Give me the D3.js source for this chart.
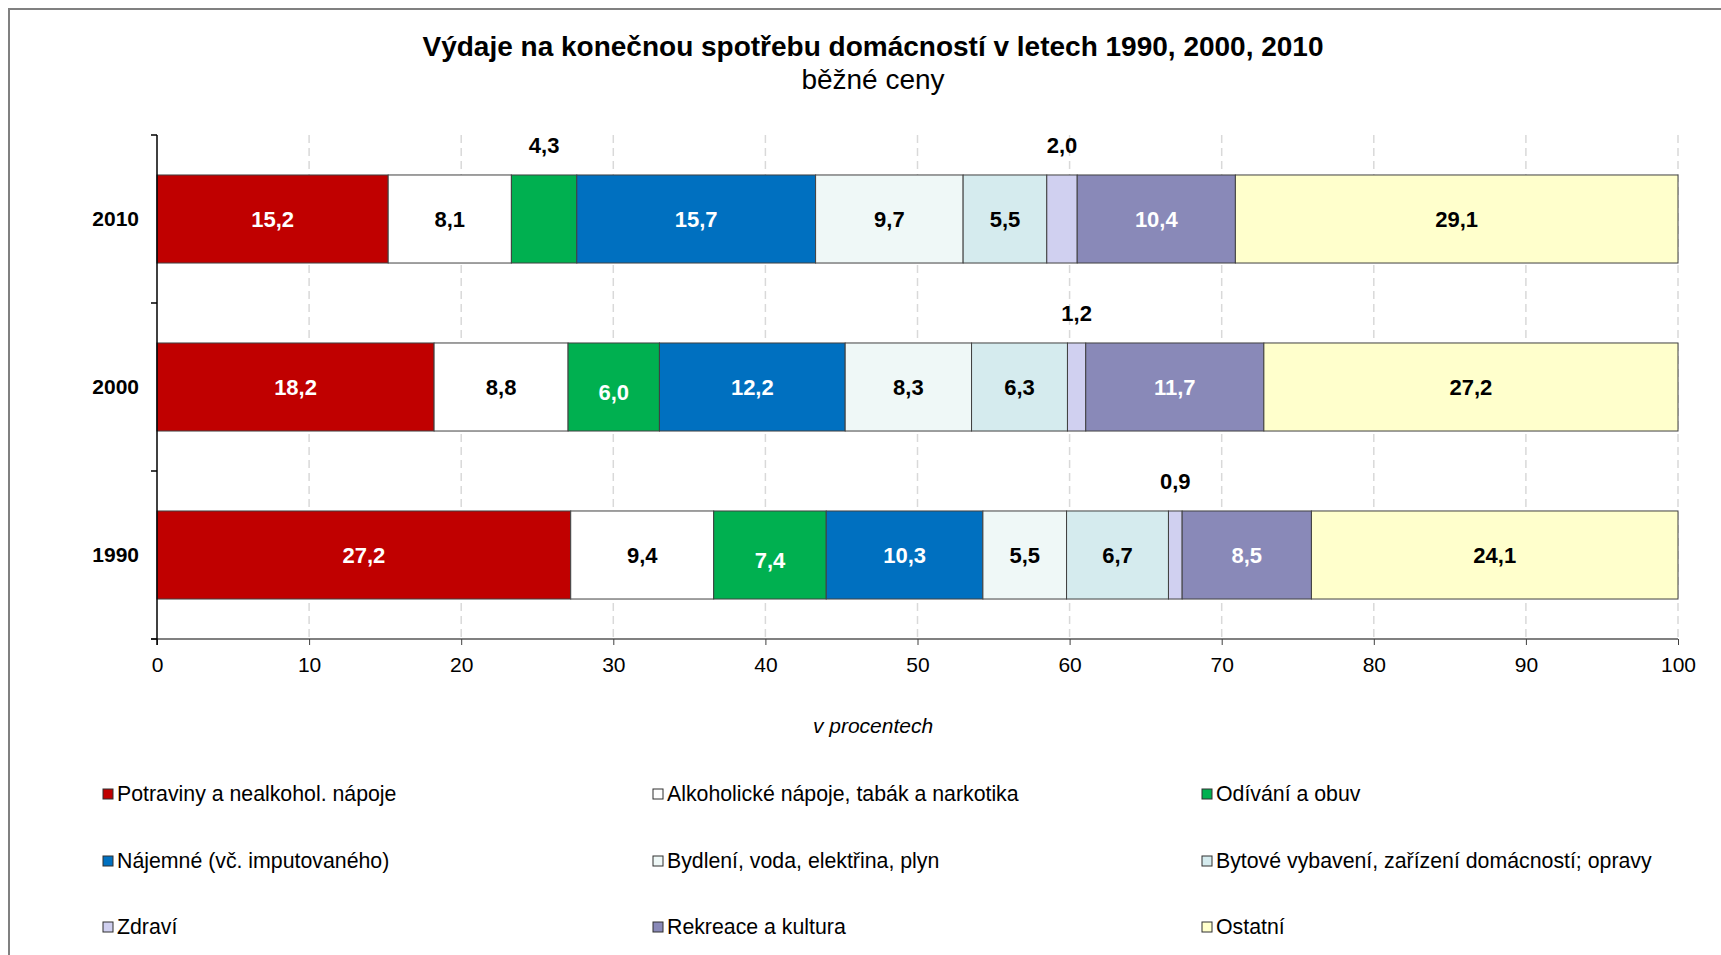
<!DOCTYPE html>
<html>
<head>
<meta charset="utf-8">
<script src="https://cdn.jsdelivr.net/npm/d3@7"></script>
<style>
  body { margin: 0; background: #fff; }
  svg { display: block; font-family: "Liberation Sans", Arial, sans-serif; }
</style>
</head>
<body>
<script>
var width = 1721, height = 955;
var margin = {top: 135, right: 43, bottom: 316, left: 157};

// data
var years = ["2010", "2000", "1990"];
var categories = [
  "Potraviny a nealkohol. nápoje",
  "Alkoholické nápoje, tabák a narkotika",
  "Odívání a obuv",
  "Nájemné (vč. imputovaného)",
  "Bydlení, voda, elektřina, plyn",
  "Bytové vybavení, zařízení domácností; opravy",
  "Zdraví",
  "Rekreace a kultura",
  "Ostatní"
];
var values2010 = [15.2, 8.1, 4.3, 15.7, 9.7, 5.5, 2.0, 10.4, 29.1];
var values2000 = [18.2, 8.8, 6.0, 12.2, 8.3, 6.3, 1.2, 11.7, 27.2];
var values1990 = [27.2, 9.4, 7.4, 10.3, 5.5, 6.7, 0.9, 8.5, 24.1];
var xTicks = [0, 10, 20, 30, 40, 50, 60, 70, 80, 90, 100];

var colors = ["#C00000", "#FFFFFF", "#00B050", "#0070C0", "#EFF8F7",
              "#D5EBEE", "#D0D0F0", "#8989B8", "#FFFFCC"];
var whiteText = [true, false, true, true, false, false, false, true, false];

var rows = [values2010, values2000, values1990].map(function(v, i) {
  var r = {year: years[i]};
  categories.forEach(function(c, j) { r[c] = v[j]; });
  return r;
});

var series = d3.stack().keys(categories).offset(d3.stackOffsetExpand)(rows);

var w = width - margin.left - margin.right;
var h = height - margin.top - margin.bottom;

var x = d3.scaleLinear().domain([0, 1]).range([0, w]);
var y = d3.scaleBand().domain(years).range([0, h]).paddingInner(0.476).paddingOuter(0.238);
var fmt = function(v) { return d3.format(".1f")(v).replace(".", ","); };

var svg = d3.select("body").append("svg").attr("width", width).attr("height", height);

// frame
svg.append("path")
  .attr("d", "M9," + height + "V9H" + width)
  .attr("fill", "none").attr("stroke", "#808080").attr("stroke-width", 2);

svg.append("text")
  .attr("x", 873).attr("y", 56)
  .attr("text-anchor", "middle")
  .style("font-size", "28px").style("font-weight", "bold")
  .text("Výdaje na konečnou spotřebu domácností v letech 1990, 2000, 2010");

svg.append("text")
  .attr("x", 873).attr("y", 89)
  .attr("text-anchor", "middle")
  .style("font-size", "28px")
  .text("běžné ceny");

var g = svg.append("g").attr("transform", "translate(" + margin.left + "," + margin.top + ")");

// grid
g.selectAll(".grid")
  .data(xTicks.slice(1))
  .enter().append("line")
    .attr("x1", function(d) { return x(d / 100); })
    .attr("x2", function(d) { return x(d / 100); })
    .attr("y1", 0).attr("y2", h)
    .attr("stroke", "#D9D9D9").attr("stroke-width", 1.5)
    .attr("stroke-dasharray", "8,5");

// bars
var layer = g.selectAll(".layer")
  .data(series)
  .enter().append("g")
    .attr("fill", function(d, i) { return colors[i]; });

layer.selectAll("rect")
  .data(function(d) { return d; })
  .enter().append("rect")
    .attr("x", function(d) { return x(d[0]); })
    .attr("y", function(d) { return y(d.data.year); })
    .attr("width", function(d) { return x(d[1]) - x(d[0]); })
    .attr("height", y.bandwidth())
    .attr("stroke", "#404040").attr("stroke-width", 1);

// value labels (small ones sit above the bar)
layer.each(function(s, i) {
  d3.select(this).selectAll("text")
    .data(s)
    .enter().append("text")
      .attr("x", function(d) { return x((d[0] + d[1]) / 2); })
      .attr("y", function(d) {
        var v = d.data[s.key];
        if (v < 4.5) return y(d.data.year) - 30;
        return y(d.data.year) + y.bandwidth() / 2 + (i === 2 ? 5 : 0);
      })
      .attr("dy", "0.35em")
      .attr("text-anchor", "middle")
      .attr("fill", function(d) { return (d.data[s.key] < 4.5 || !whiteText[i]) ? "#000" : "#fff"; })
      .style("font-size", "22px").style("font-weight", "bold")
      .text(function(d) { return fmt(d.data[s.key]); });
});

// axes
var xAxis = g.append("g")
  .attr("transform", "translate(0," + h + ")")
  .call(d3.axisBottom(x).tickValues(xTicks.map(function(d) { return d / 100; }))
    .tickFormat(function(d) { return Math.round(d * 100); }).tickSizeOuter(0).tickSize(6).tickPadding(12));
xAxis.select(".domain").attr("stroke", "#808080").attr("stroke-width", 2)
  .attr("d", "M-6,0H" + w);
xAxis.selectAll(".tick line").attr("stroke", "#404040");
xAxis.selectAll("text").style("font-size", "21px").style("font-family", "Liberation Sans, Arial, sans-serif");

var yAxis = g.append("g");
yAxis.append("line")
  .attr("x1", 0).attr("x2", 0).attr("y1", 0).attr("y2", h + 6)
  .attr("stroke", "#000").attr("stroke-width", 1.5);
yAxis.selectAll(".ytick")
  .data(d3.range(years.length + 1))
  .enter().append("line")
    .attr("x1", -6).attr("x2", 0)
    .attr("y1", function(d) { return d * y.step(); })
    .attr("y2", function(d) { return d * y.step(); })
    .attr("stroke", "#000").attr("stroke-width", 1.5);
yAxis.selectAll(".ylab")
  .data(years)
  .enter().append("text")
    .attr("x", -18)
    .attr("y", function(d) { return y(d) + y.bandwidth() / 2; })
    .attr("dy", "0.35em")
    .attr("text-anchor", "end")
    .style("font-size", "21px").style("font-weight", "bold")
    .text(function(d) { return d; });

svg.append("text")
  .attr("x", 873).attr("y", 733)
  .attr("text-anchor", "middle")
  .style("font-size", "21px").style("font-style", "italic")
  .text("v procentech");

// legend
var legendX = [101, 651, 1200];
var legendY = [794, 861, 927];
var legend = svg.selectAll(".legend")
  .data(categories)
  .enter().append("g")
    .attr("transform", function(d, i) {
      return "translate(" + legendX[i % 3] + "," + legendY[Math.floor(i / 3)] + ")";
    });

legend.append("rect")
  .attr("x", 2).attr("y", -5).attr("width", 10).attr("height", 10)
  .attr("fill", function(d, i) { return colors[i]; })
  .attr("stroke", "#303030").attr("stroke-width", 1);

legend.append("text")
  .attr("x", 16).attr("y", 0).attr("dy", "0.35em")
  .style("font-size", "21.3px")
  .text(function(d) { return d; });
</script>
</body>
</html>
